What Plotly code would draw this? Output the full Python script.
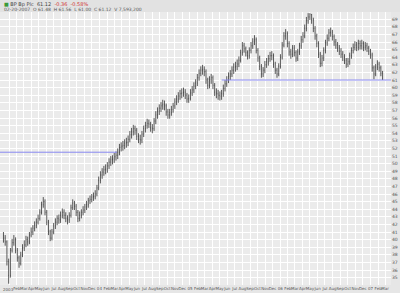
import pandas as pd
import plotly.graph_objects as go

# Weekly bars (week starting Monday)
week_start = pd.date_range("2002-12-09", periods=220, freq="W-MON")

closes = [40.2, 39.7, 37.1, 35.3, 38.6, 39.6, 40.0, 38.6, 37.6, 36.9,
          38.0, 38.9, 39.3, 40.0, 39.7, 40.6, 41.0, 41.5, 41.9, 42.3,
          42.8, 43.6, 44.6, 45.0, 43.6, 42.3, 41.0, 40.2, 41.0, 41.8,
          42.3, 42.8, 42.6, 43.2, 43.6, 43.2, 42.8, 42.6, 43.2, 44.2,
          44.8, 44.4, 43.6, 42.8, 43.2, 43.6, 43.9, 44.3, 44.6, 45.1,
          45.3, 45.6, 45.7, 46.0, 46.8, 47.8, 48.5, 48.9, 49.2, 49.3,
          49.7, 50.2, 50.5, 50.6, 50.9, 51.1, 51.5, 52.1, 52.3, 52.4,
          52.7, 52.8, 53.2, 53.8, 54.2, 54.6, 54.4, 53.6, 53.2, 53.1,
          53.9, 54.6, 55.0, 55.3, 55.2, 54.7, 54.6, 55.6, 56.4, 56.9,
          57.3, 57.6, 57.8, 57.6, 56.8, 56.4, 56.7, 57.1, 57.6, 58.1,
          58.5, 58.9, 59.2, 59.3, 59.4, 59.0, 58.5, 58.6, 59.3, 59.7,
          60.2, 60.6, 61.3, 61.9, 62.3, 62.4, 62.1, 61.0, 60.3, 61.0,
          61.3, 60.3, 59.4, 59.2, 59.0, 58.9, 59.2, 59.9, 60.5, 61.0,
          61.5, 61.8, 62.3, 62.7, 62.8, 63.1, 63.6, 64.6, 65.5, 65.1,
          64.6, 64.2, 64.9, 65.5, 66.0, 66.3, 64.9, 63.9, 62.8, 61.8,
          62.3, 63.0, 63.4, 63.8, 64.2, 64.2, 63.1, 62.3, 61.8, 62.8,
          64.0, 65.6, 66.8, 67.1, 65.8, 64.7, 64.4, 65.2, 64.6, 63.9,
          64.7, 65.5, 66.3, 66.8, 67.8, 68.8, 69.3, 69.6, 68.9, 67.8,
          66.8, 65.8, 64.4, 63.2, 63.9, 64.9, 65.9, 66.5, 67.2, 67.3,
          66.7, 66.0, 65.6, 65.2, 64.8, 64.4, 64.0, 63.6, 63.1, 63.4,
          64.2, 64.9, 65.3, 65.6, 65.3, 65.8, 65.5, 65.8, 65.3, 65.5,
          65.2, 64.8, 64.3, 62.6, 61.8, 62.7, 63.1, 62.6, 61.9, 61.1]

opens = [40.5] + closes[:-1]

highs = [41.0, 40.6, 39.9, 37.5, 38.9, 40.1, 40.6, 40.3, 38.9, 37.9,
         38.4, 39.4, 39.9, 40.5, 40.4, 41.0, 41.6, 41.9, 42.4, 42.8,
         43.3, 44.0, 45.0, 45.6, 45.3, 43.9, 42.6, 41.3, 41.4, 42.2,
         42.8, 43.2, 43.3, 43.7, 44.1, 44.0, 43.6, 43.2, 43.6, 44.6,
         45.3, 45.1, 44.7, 43.9, 43.7, 44.0, 44.4, 44.7, 45.1, 45.5,
         45.8, 46.0, 46.2, 46.5, 47.2, 48.3, 49.0, 49.4, 49.7, 49.9,
         50.2, 50.7, 51.0, 51.1, 51.4, 51.6, 52.0, 52.6, 52.8, 53.0,
         53.2, 53.4, 53.7, 54.3, 54.7, 55.1, 55.0, 54.7, 54.0, 53.8,
         54.3, 55.0, 55.5, 55.9, 55.8, 55.5, 55.2, 56.0, 56.9, 57.4,
         57.8, 58.1, 58.4, 58.3, 57.9, 57.2, 57.2, 57.6, 58.0, 58.6,
         59.0, 59.4, 59.7, 59.9, 60.0, 59.8, 59.3, 59.1, 59.8, 60.2,
         60.7, 61.1, 61.8, 62.4, 62.8, 63.0, 62.8, 62.4, 61.3, 61.5,
         61.8, 61.6, 60.6, 59.9, 59.7, 59.5, 59.7, 60.4, 61.0, 61.5,
         62.0, 62.3, 62.8, 63.2, 63.4, 63.7, 64.1, 65.0, 66.0, 65.9,
         65.4, 64.9, 65.3, 66.0, 66.5, 66.9, 66.6, 65.2, 64.2, 63.1,
         62.7, 63.5, 63.9, 64.3, 64.7, 64.8, 64.5, 63.4, 62.6, 63.2,
         64.4, 66.0, 67.3, 67.7, 67.4, 66.1, 65.1, 65.6, 65.6, 64.9,
         65.1, 65.9, 66.8, 67.3, 68.3, 69.3, 69.8, 69.8, 69.7, 69.2,
         68.1, 67.1, 66.1, 64.7, 64.3, 65.3, 66.3, 67.0, 67.7, 67.9,
         67.6, 67.0, 66.4, 66.0, 65.6, 65.2, 64.8, 64.4, 63.9, 63.9,
         64.6, 65.3, 65.8, 66.1, 66.0, 66.3, 66.2, 66.3, 66.1, 66.0,
         65.9, 65.5, 65.1, 64.6, 62.9, 63.1, 63.6, 63.4, 62.9, 62.2]

lows = [39.6, 39.2, 36.6, 34.2, 35.0, 38.3, 39.2, 38.2, 37.1, 36.3,
        36.6, 37.7, 38.5, 39.0, 39.2, 39.4, 40.3, 40.6, 41.1, 41.5,
        42.0, 42.5, 43.3, 44.2, 43.2, 41.9, 40.6, 39.8, 39.9, 40.7,
        41.4, 41.9, 42.1, 42.2, 42.8, 42.7, 42.3, 42.0, 42.2, 42.9,
        43.9, 43.9, 43.1, 42.3, 42.4, 42.8, 43.2, 43.5, 43.9, 44.2,
        44.7, 44.9, 45.1, 45.3, 45.7, 46.5, 47.4, 48.0, 48.4, 48.6,
        48.8, 49.3, 49.7, 49.9, 50.1, 50.4, 50.6, 51.1, 51.6, 51.7,
        51.9, 52.1, 52.3, 52.8, 53.3, 53.7, 53.8, 53.1, 52.7, 52.5,
        52.7, 53.5, 54.1, 54.6, 54.7, 54.2, 54.0, 54.3, 55.2, 55.9,
        56.4, 56.8, 57.1, 57.0, 56.3, 55.9, 55.9, 56.3, 56.7, 57.2,
        57.7, 58.0, 58.4, 58.6, 58.8, 58.5, 58.0, 58.0, 58.3, 58.9,
        59.3, 59.8, 60.2, 60.9, 61.5, 61.7, 61.5, 60.5, 59.8, 59.9,
        60.5, 59.8, 58.9, 58.6, 58.4, 58.3, 58.4, 58.8, 59.5, 60.1,
        60.6, 61.0, 61.4, 61.8, 62.1, 62.3, 62.7, 63.3, 64.2, 64.6,
        64.1, 63.7, 63.8, 64.5, 65.1, 65.6, 64.5, 63.4, 62.3, 61.3,
        61.4, 61.9, 62.6, 62.9, 63.4, 63.6, 62.6, 61.8, 61.3, 61.5,
        62.5, 63.7, 65.3, 66.3, 65.3, 64.2, 63.8, 64.0, 64.1, 63.4,
        63.5, 64.3, 65.1, 65.9, 66.5, 67.4, 68.4, 68.9, 68.4, 67.3,
        66.3, 65.3, 63.9, 62.7, 62.8, 63.5, 64.5, 65.5, 66.1, 66.7,
        66.2, 65.5, 65.1, 64.7, 64.3, 63.9, 63.5, 63.1, 62.6, 62.7,
        63.0, 63.8, 64.5, 64.9, 64.8, 64.9, 65.0, 65.0, 64.8, 64.9,
        64.7, 64.3, 63.8, 62.1, 61.1, 61.5, 62.3, 62.1, 61.5, 61.0]

# Horizontal support / resistance lines drawn on the chart
level_lines = [("2002-11-25", "2004-03-12", 51.5),
               ("2005-05-09", "2007-03-25", 61.0)]

# Axis ticks
month_ticks = pd.date_range("2003-01-01", "2007-03-01", freq="MS")
month_labels = []
for d in month_ticks:
    if d.month == 1:
        month_labels.append("" if d.year == 2003 else d.strftime("%y"))
    else:
        month_labels.append(d.strftime("%b"))
first_year_label = "2003"

price_ticks = list(range(35, 70))

fig = go.Figure()
fig.add_trace(go.Ohlc(
    x=week_start, open=opens, high=highs, low=lows, close=closes,
    increasing=dict(line=dict(color="#333333", width=0.8)),
    decreasing=dict(line=dict(color="#333333", width=0.8)),
    tickwidth=0.2, showlegend=False, hoverinfo="skip"))

for x0, x1, lvl in level_lines:
    fig.add_shape(type="line", xref="x", yref="y", x0=x0, x1=x1, y0=lvl, y1=lvl,
                  line=dict(color="#8a8af0", width=1))

# header band
fig.add_shape(type="rect", xref="paper", yref="paper", x0=-0.01, x1=1.03,
              y0=1.0, y1=1.06, fillcolor="#e2e2e2", line=dict(width=0), layer="below")

fig.add_annotation(xref="paper", yref="paper", x=0.004, y=1.029, xanchor="left",
                   yanchor="middle", showarrow=False,
                   text="<span style='color:#3a9a3a'>■</span> BP Bp Plc  61.12  "
                        "<span style='color:#d03030'>-0.36  -0.58%</span>",
                   font=dict(size=5, color="#444", family="DejaVu Sans"))
fig.add_annotation(xref="paper", yref="paper", x=0.004, y=1.009, xanchor="left",
                   yanchor="middle", showarrow=False,
                   text="02-20-2007  O 61.48  H 61.56  L 61.00  C 61.12  V 7,593,200",
                   font=dict(size=4.5, color="#555", family="DejaVu Sans"))
fig.add_annotation(xref="paper", yref="paper", x=0.003, y=0, yshift=-4,
                   xanchor="left", yanchor="middle", showarrow=False,
                   text=first_year_label, font=dict(size=4, color="#555"))

fig.update_layout(
    width=400, height=293,
    margin=dict(l=0, r=9, t=12, b=8),
    paper_bgcolor="#e6e6e6", plot_bgcolor="#ebebeb",
    font=dict(family="DejaVu Sans", size=5, color="#555"),
    xaxis=dict(range=["2002-11-25", "2007-03-25"], tickvals=month_ticks,
               ticktext=month_labels, tickangle=0, showgrid=True,
               gridcolor="#ffffff", gridwidth=1, zeroline=False,
               rangeslider=dict(visible=False), ticks="", ticklen=0,
               tickfont=dict(size=4, color="#555")),
    yaxis=dict(range=[34.03, 69.95], side="right", tickvals=price_ticks,
               ticktext=[str(v) for v in price_ticks], showgrid=True,
               gridcolor="#ffffff", gridwidth=1, zeroline=False, ticks="",
               tickfont=dict(size=4.5, color="#555")),
)

fig.write_html("out.html")
